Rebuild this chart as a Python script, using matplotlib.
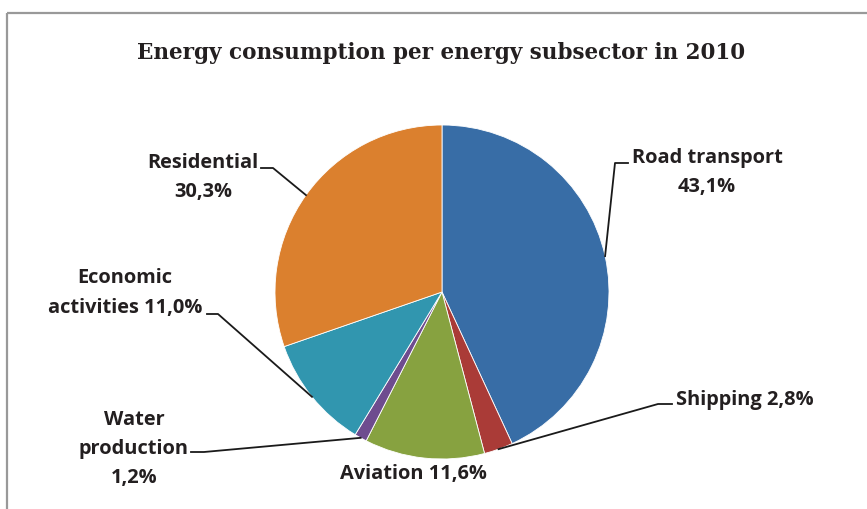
import numpy as np
import matplotlib
matplotlib.use("Agg")
import matplotlib.pyplot as plt

# ---- data ----
categories = ["Road transport", "Shipping", "Aviation", "Water production",
              "Economic activities", "Residential"]
values = [43.1, 2.8, 11.6, 1.2, 11.0, 30.3]
label_lines = [["Road transport", "43,1%"], ["Shipping 2,8%"], ["Aviation 11,6%"],
               ["Water", "production", "1,2%"], ["Economic", "activities 11,0%"],
               ["Residential", "30,3%"]]
colors = ["#386DA6", "#AA3B37", "#87A240", "#6E4C8F", "#3196AF", "#DB802E"]
title = "Energy consumption per energy subsector in 2010"

W, H = 867, 509
fig = plt.figure(figsize=(W / 100, H / 100), dpi=100)
ax = fig.add_axes([0, 0, 1, 1])

def Y(y):
    return H - y

cx, cy, r = 442, Y(292), 167
ax.pie(values, colors=colors, startangle=90, counterclock=False,
       center=(cx, cy), radius=r,
       wedgeprops=dict(edgecolor="white", linewidth=0.6))
ax.set_xlim(0, W)
ax.set_ylim(0, H)
ax.set_aspect("equal")
ax.axis("off")

# frame (top and left visible)
ax.plot([7, W], [Y(13), Y(13)], color="#999999", lw=1.6, solid_capstyle="butt")
ax.plot([7, 7], [Y(13), 0], color="#999999", lw=1.6, solid_capstyle="butt")

ax.text(441.5, Y(59), title, ha="center", va="baseline",
        fontsize=15.5, fontweight="bold", family="DejaVu Serif", color="#231F20")

# label layout: (center x, first baseline y, line step, leader start, leader knee)
layout = [
    (707, 163, 29, (628, 163), (615, 163)),
    (745, 405, 29, (672, 404), (658, 404)),
    (413, 479, 29, None, None),
    (134, 425, 29, (191, 452), (204, 452)),
    (125, 283, 30, (207, 314), (218, 314)),
    (203, 168, 29, (261, 168), (273, 168)),
]

total = sum(values)
cum = 0.0
for v, lines, (lx, ly, step, p0, p1) in zip(values, label_lines, layout):
    mid = cum + v / 2
    cum += v
    ang = np.deg2rad(90 - 360 * mid / total)
    ax_, ay_ = cx + r * np.cos(ang), cy + r * np.sin(ang)
    for i, t in enumerate(lines):
        ax.text(lx, Y(ly + i * step), t, ha="center", va="baseline",
                fontsize=14.4, fontweight="bold", family="Open Sans", color="#231F20")
    if p0 is not None:
        ax.plot([p0[0], p1[0], ax_], [Y(p0[1]), Y(p1[1]), ay_],
                color="#1a1a1a", lw=1.3)

fig.savefig("out.png", dpi=100)
